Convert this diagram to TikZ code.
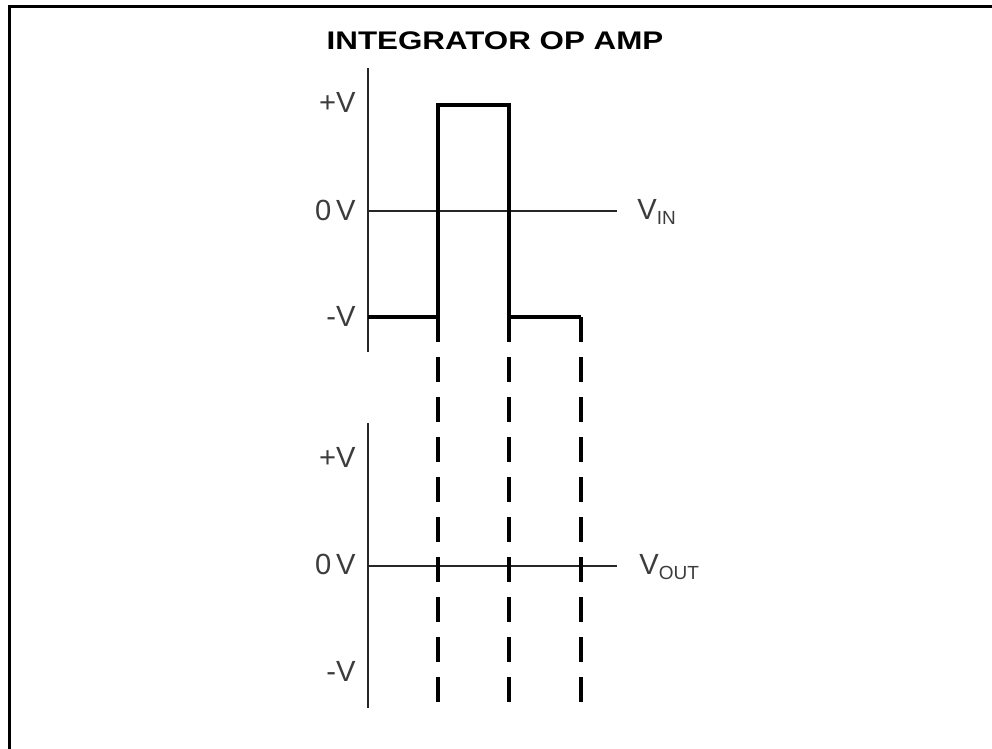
\documentclass[tikz,border=0pt]{standalone}
\usepackage{fontspec}
\setmainfont{Liberation Sans}
\newfontfamily\titlefont[FakeStretch=1.23]{Liberation Sans}
\usetikzlibrary{positioning}
\definecolor{ink}{HTML}{000000}
\definecolor{labelgray}{HTML}{3C3C3C}
\definecolor{axisgray}{HTML}{262626}
\tikzset{
  frameline/.style={draw=ink, line width=1.7pt},
  axisline/.style={draw=axisgray, line width=1.1pt},
  pulseline/.style={draw=ink, line width=2.3pt},
  guideline/.style={draw=ink, line width=2.3pt, dash pattern=on 0.5cm off 0.3cm},
  titlenode/.style={anchor=base, inner sep=0pt,
    font=\titlefont\bfseries\fontsize{14.5}{16}\selectfont},
  levellabel/.style={anchor=base east, inner sep=0pt, text=labelgray,
    font=\fontsize{16.6}{18}\selectfont},
  siglabel/.style={anchor=base west, inner sep=0pt, text=labelgray,
    font=\fontsize{16.6}{18}\selectfont},
}
\newcommand{\sigsub}[1]{\raisebox{-2.5pt}{\fontsize{10.8}{12}\selectfont #1}}

\begin{document}
\begin{tikzpicture}[x=0.02cm, y=-0.02cm]
  \useasboundingbox (0,0) rectangle (992,749);
  % frame (open at right and bottom)
  \draw[frameline] (9.5,749) -- (9.5,6.5) -- (992,6.5);

  \node[titlenode] (title) at (495,50) {INTEGRATOR OP AMP};

  % Input: square pulse
  \draw[axisline] (368,68) -- (368,352);
  \draw[axisline] (368,211) -- (617,211);

  \coordinate (s) at (368,317);
  \coordinate (a) at (438,317);
  \coordinate (b) at (438,105);
  \coordinate (c) at (509,105);
  \coordinate (d) at (509,317);
  \coordinate (e) at (581,317);
  \draw[pulseline] (s) -- (a) -- (b) -- (c) -- (d) -- (e);

  \node[levellabel] (inpos) at (356,113) {+V};
  \node[levellabel] (inzero) at (356,221) {0\,V};
  \node[levellabel] (inneg) at (356,327) {-V};
  \node[siglabel] (vin) at (637,220) {V\sigsub{IN}};

  % Output
  \draw[axisline] (368,423) -- (368,708);
  \draw[axisline] (368,566) -- (617,566);

  \node[levellabel] (outpos) at (356,468) {+V};
  \node[levellabel] (outzero) at (356,575) {0\,V};
  \node[levellabel] (outneg) at (356,682) {-V};
  \node[siglabel] (vout) at (639,575) {V\sigsub{OUT}};

  % guides down from the edges
  \coordinate (guideend) at (0,702);
  \foreach \p in {a,d,e} {
    \draw[guideline] (\p) -- (\p |- guideend);
  }
\end{tikzpicture}
\end{document}
